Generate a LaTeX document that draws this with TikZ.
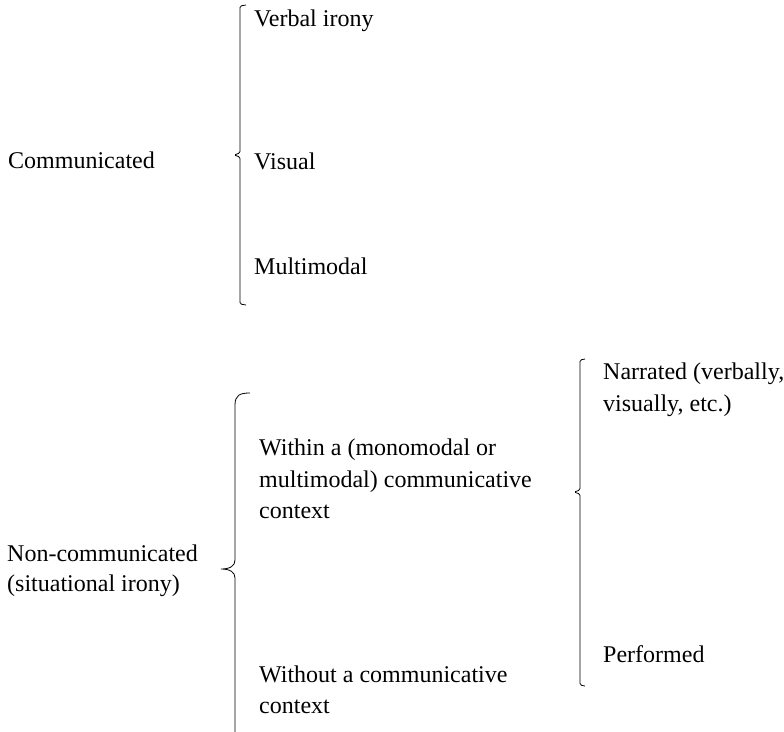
\documentclass[tikz,border=0pt]{standalone}
\usepackage{fontspec}
\setmainfont{Liberation Serif}

\begin{document}
\begin{tikzpicture}[x=1pt,y=-1pt,
    every node/.style={inner sep=0pt,anchor=west,align=left,font=\fontsize{24}{31.5}\selectfont},
    brc/.style={line width=0.8pt,rounded corners=1.5pt}]
\clip (0,0) rectangle (784,731);
\node (comm) at (8,160) {Communicated};
\node (verbal) at (254,21) {Verbal irony};
\node (visual) at (254,161) {Visual};
\node (multi) at (254,266) {Multimodal};
\node[font=\fontsize{24}{30.5}\selectfont] (noncomm) at (7,571) {Non-communicated\\(situational irony)};
\node (within) at (259,479) {Within a (monomodal or\\multimodal) communicative\\context};
\node (without) at (259,690) {Without a communicative\\context};
\node (narr) at (603,390) {Narrated (verbally,\\visually, etc.)};
\node (perf) at (603,654) {Performed};
% braces
\draw[brc] (246,5) -- (240,6) -- (240,153) -- (234,155) -- (240,157) -- (240,304) -- (246,305);
\draw[line width=0.8pt] (250,393) .. controls (240,393) and (235,395) .. (235,405) -- (235,560)
    .. controls (235,566) and (230,569) .. (221,569) .. controls (230,569) and (235,572) .. (235,578) -- (235,745);
\draw[brc] (585,359) -- (580,360) -- (580,490) -- (574,492) -- (580,494) -- (580,685) -- (585,686);
\end{tikzpicture}
\end{document}
